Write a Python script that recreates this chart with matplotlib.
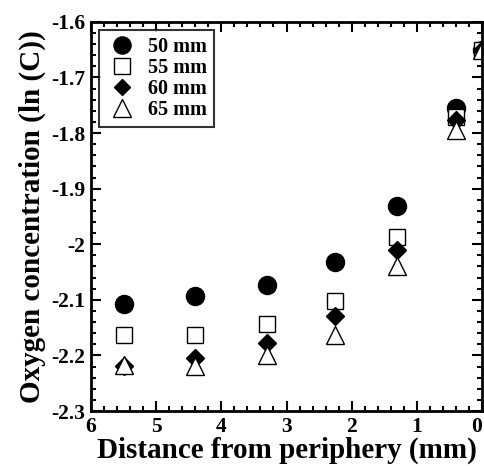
import matplotlib.pyplot as plt
from matplotlib.ticker import MultipleLocator

# Distance from periphery (mm) and ln(C) for each depth
distance = [5.5, 4.4, 3.3, 2.25, 1.3, 0.4, 0.0]
c50 = [-2.107, -2.093, -2.073, -2.032, -1.931, -1.755, -1.650]
c55 = [-2.163, -2.163, -2.143, -2.102, -1.987, -1.771, -1.650]
c60 = [-2.219, -2.205, -2.178, -2.129, -2.010, -1.776, -1.650]
c65 = [-2.217, -2.219, -2.199, -2.163, -2.039, -1.794, -1.650]

plt.rcParams['font.family'] = ['Liberation Serif', 'DejaVu Serif']
plt.rcParams['font.weight'] = 'bold'

fig = plt.figure(figsize=(4.84, 4.66), dpi=100)
ax = fig.add_axes([0.188, 0.118, 0.808, 0.835])

ax.plot(distance, c50, 'o', color='black', markersize=13, label='50 mm')
ax.plot(distance, c55, 's', mfc='white', mec='black', mew=1.0, markersize=12, label='55 mm')
ax.plot(distance, c60, 'D', color='black', markersize=9, label='60 mm')
ax.plot(distance, c65, '^', mfc='white', mec='black', mew=1.0, markersize=13, label='65 mm')

ax.set_xlim(6, 0)
ax.set_ylim(-2.3, -1.6)
ax.xaxis.set_minor_locator(MultipleLocator(0.2))
ax.yaxis.set_minor_locator(MultipleLocator(0.02))
ax.set_xticks([6, 5, 4, 3, 2, 1, 0])
ax.set_xticklabels(['6', '5', '4', '3', '2', '1', '0'])
ax.set_yticks([-2.3, -2.2, -2.1, -2.0, -1.9, -1.8, -1.7, -1.6])
ax.set_yticklabels(['-2.3', '-2.2', '-2.1', '-2', '-1.9', '-1.8', '-1.7', '-1.6'])
ax.get_xticklabels()[-1].set_horizontalalignment('right')

ax.tick_params(which='both', direction='in', top=True, right=True, width=1.5)
ax.tick_params(which='major', length=7, labelsize=15.5, pad=4)
ax.tick_params(which='minor', length=3.5)
for s in ax.spines.values():
    s.set_linewidth(2)

ax.set_xlabel('Distance from periphery (mm)', fontsize=21, fontweight='bold', labelpad=0)
ax.set_ylabel('Oxygen concentration (ln (C))', fontsize=21, fontweight='bold', labelpad=4)

leg = ax.legend(loc='upper left', fontsize=14.5, frameon=True, fancybox=False,
                edgecolor='black', handletextpad=0.5, borderpad=0.35,
                labelspacing=0.05, handlelength=1.6, borderaxespad=0.4,
                markerscale=0.95)
leg.get_frame().set_linewidth(1.5)

plt.savefig('out.png', dpi=100)
